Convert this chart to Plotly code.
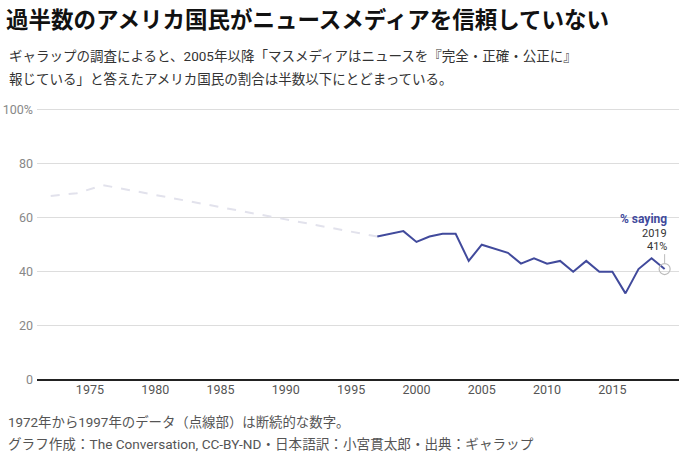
import plotly.graph_objects as go

# Data
years_dashed = [1972, 1974, 1976, 1997]
vals_dashed = [68, 69, 72, 53]
years_solid = [1997, 1999, 2000, 2001, 2002, 2003, 2004, 2005, 2007, 2008, 2009,
               2010, 2011, 2012, 2013, 2014, 2015, 2016, 2017, 2018, 2019]
vals_solid = [53, 55, 51, 53, 54, 54, 44, 50, 47, 43, 45,
              43, 44, 40, 44, 40, 40, 32, 41, 45, 41]
y_ticks = [0, 20, 40, 60, 80, 100]
y_tick_labels = ["0", "20", "40", "60", "80", "100%"]
x_ticks = [1975, 1980, 1985, 1990, 1995, 2000, 2005, 2010, 2015]

FONT = "Roboto, 'Noto Sans CJK JP', sans-serif"
JP = "'Noto Sans CJK JP', Roboto, sans-serif"
BLUE = "#414a9c"

fig = go.Figure()
fig.add_trace(go.Scatter(x=years_dashed, y=vals_dashed, mode="lines",
                         line=dict(color="#e2e2ec", width=2, dash="dash"),
                         hoverinfo="skip", showlegend=False))
fig.add_trace(go.Scatter(x=years_solid, y=vals_solid, mode="lines",
                         line=dict(color=BLUE, width=2),
                         showlegend=False))
fig.add_trace(go.Scatter(x=[years_solid[-1]], y=[vals_solid[-1]], mode="markers",
                         marker=dict(size=11, color="rgba(255,255,255,0)",
                                     line=dict(color="#bbbbbb", width=1.2)),
                         cliponaxis=False, showlegend=False, hoverinfo="skip"))

L, R, T, B = 37, 3, 108, 82
W, H = 682, 462
PW, PH = W - L - R, H - T - B
fig.update_layout(
    width=W, height=H,
    margin=dict(l=L, r=R, t=T, b=B),
    plot_bgcolor="white", paper_bgcolor="white",
    font=dict(family=FONT, size=12, color="#555"),
    xaxis=dict(range=[1970.95, 2020.1], tickvals=x_ticks, showgrid=False,
               zeroline=False, showline=False, ticks="", automargin=False,
               tickfont=dict(size=12.5, color="#555")),
    yaxis=dict(range=[0, 100.5], tickvals=y_ticks, ticktext=y_tick_labels,
               showgrid=True, gridcolor="#dddddd", gridwidth=1,
               zeroline=True, zerolinecolor="#222222", zerolinewidth=2,
               ticks="", ticklabelstandoff=3, automargin=False,
               tickfont=dict(size=12.5, color="#888")),
)

def px(xf):
    return (xf - L) / PW

def py(yf):
    return 1 + (T - yf) / PH

# Title and subtitles (figure pixel coords)
fig.add_annotation(xref="paper", yref="paper", x=px(4), y=py(18), xanchor="left", yanchor="middle",
                   text="<b>過半数のアメリカ国民がニュースメディアを信頼していない</b>",
                   showarrow=False, font=dict(family=JP, size=22.5, color="#111"))
fig.add_annotation(xref="paper", yref="paper", x=px(7), y=py(56), xanchor="left", yanchor="middle",
                   text="ギャラップの調査によると、2005年以降「マスメディアはニュースを『完全・正確・公正に』",
                   showarrow=False, font=dict(family=FONT, size=13.5, color="#333"))
fig.add_annotation(xref="paper", yref="paper", x=px(7), y=py(79), xanchor="left", yanchor="middle",
                   text="報じている」と答えたアメリカ国民の割合は半数以下にとどまっている。",
                   showarrow=False, font=dict(family=FONT, size=13.5, color="#333"))
# Footer
fig.add_annotation(xref="paper", yref="paper", x=px(6), y=py(422), xanchor="left", yanchor="middle",
                   text="1972年から1997年のデータ（点線部）は断続的な数字。",
                   showarrow=False, font=dict(family=FONT, size=13.4, color="#555"))
fig.add_annotation(xref="paper", yref="paper", x=px(6), y=py(444), xanchor="left", yanchor="middle",
                   text="グラフ作成：The Conversation, CC-BY-ND・日本語訳：小宮貫太郎・出典：ギャラップ",
                   showarrow=False, font=dict(family=FONT, size=13.6, color="#555"))

# End label
fig.add_annotation(x=2019.3, y=59.5, xref="x", yref="y", xanchor="right", yanchor="middle",
                   text="<b>% saying</b>", showarrow=False,
                   font=dict(family=FONT, size=12, color=BLUE))
fig.add_annotation(x=2019.3, y=54.3, xref="x", yref="y", xanchor="right", yanchor="middle",
                   text="2019", showarrow=False, font=dict(family=FONT, size=11, color="#333"))
fig.add_annotation(x=2019.3, y=49.2, xref="x", yref="y", xanchor="right", yanchor="middle",
                   text="41%", showarrow=False, font=dict(family=FONT, size=11, color="#333"))
fig.add_shape(type="line", xref="x", yref="y", x0=2019, x1=2019, y0=46.5, y1=43.2,
              line=dict(color="#bbbbbb", width=1))

fig.write_html("out.html", config={"displayModeBar": False},
               post_script="document.body.style.margin='0';")
